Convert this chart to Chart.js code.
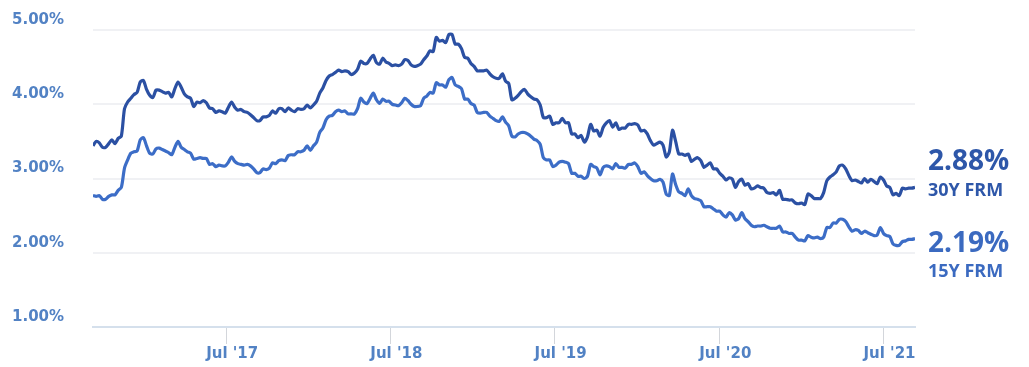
<!DOCTYPE html>
<html>
<head>
<meta charset="utf-8">
<title>Mortgage rates</title>
<script src="https://cdn.jsdelivr.net/npm/chart.js@4.4.0/dist/chart.umd.min.js"></script>
<style>
  html, body { margin: 0; padding: 0; background: #fff; }
</style>
</head>
<body>
<canvas id="rates" width="1029" height="367"></canvas>
<script>
// weekly survey, one value per Thursday starting at firstWeek
const firstWeek = Date.UTC(2016, 8, 8);

const rate30 = [
    // 2016
    3.44, 3.50, 3.48, 3.42, 3.42, 3.47, 3.52, 3.47, 3.54, 3.57, 3.94, 4.03, 4.08, 4.13, 4.16, 4.30, 4.32,
    // 2017
    4.20, 4.12, 4.09, 4.19, 4.19, 4.17, 4.15, 4.16, 4.10, 4.21, 4.30, 4.23, 4.14,
    4.10, 4.08, 3.97, 4.03, 4.02, 4.05, 4.02, 3.95, 3.94, 3.89, 3.91, 3.90, 3.88,
    3.96, 4.03, 3.96, 3.92, 3.93, 3.90, 3.89, 3.86, 3.82, 3.78, 3.78, 3.83, 3.83,
    3.85, 3.91, 3.88, 3.94, 3.94, 3.90, 3.95, 3.92, 3.90, 3.94, 3.93, 3.94, 3.99,
    // 2018
    3.95, 3.99, 4.04, 4.15, 4.22, 4.32, 4.38, 4.40, 4.43, 4.46, 4.44, 4.45, 4.44,
    4.40, 4.42, 4.47, 4.58, 4.55, 4.55, 4.61, 4.66, 4.56, 4.54, 4.62, 4.57, 4.55,
    4.52, 4.53, 4.52, 4.54, 4.60, 4.59, 4.53, 4.51, 4.52, 4.54, 4.60, 4.65, 4.72,
    4.71, 4.90, 4.85, 4.86, 4.83, 4.94, 4.94, 4.81, 4.81, 4.75, 4.63, 4.62, 4.55,
    // 2019
    4.51, 4.45, 4.45, 4.45, 4.46, 4.41, 4.37, 4.35, 4.35, 4.41, 4.31, 4.28, 4.06,
    4.08, 4.12, 4.17, 4.20, 4.14, 4.10, 4.07, 4.06, 3.99, 3.82, 3.82, 3.84, 3.73,
    3.75, 3.75, 3.81, 3.75, 3.75, 3.60, 3.60, 3.55, 3.58, 3.49, 3.56, 3.73, 3.64,
    3.65, 3.57, 3.69, 3.75, 3.78, 3.69, 3.75, 3.66, 3.68, 3.68, 3.73, 3.73, 3.74,
    // 2020
    3.72, 3.64, 3.65, 3.60, 3.51, 3.45, 3.47, 3.49, 3.45, 3.29, 3.36, 3.65, 3.50,
    3.33, 3.33, 3.31, 3.33, 3.23, 3.26, 3.28, 3.24, 3.15, 3.18, 3.21, 3.13, 3.13,
    3.07, 3.03, 2.98, 3.01, 2.99, 2.88, 2.96, 2.99, 2.91, 2.93, 2.86, 2.87, 2.90,
    2.88, 2.87, 2.81, 2.80, 2.81, 2.78, 2.84, 2.72, 2.72, 2.71, 2.71, 2.67, 2.66, 2.67,
    // 2021
    2.65, 2.79, 2.77, 2.73, 2.73, 2.73, 2.81, 2.97, 3.02, 3.05, 3.09, 3.17, 3.18,
    3.13, 3.04, 2.97, 2.98, 2.96, 2.94, 3.00, 2.95, 2.99, 2.96, 2.93, 3.02,
    2.98, 2.90, 2.88, 2.78, 2.80, 2.77, 2.87, 2.86, 2.87, 2.87, 2.88
];

const rate15 = [
    // 2016
    2.77, 2.76, 2.77, 2.72, 2.72, 2.76, 2.78, 2.78, 2.84, 2.88, 3.14, 3.25, 3.34, 3.36, 3.37, 3.52, 3.55,
    // 2017
    3.44, 3.34, 3.33, 3.40, 3.41, 3.39, 3.37, 3.35, 3.32, 3.42, 3.50, 3.42, 3.39,
    3.36, 3.34, 3.26, 3.27, 3.28, 3.27, 3.27, 3.19, 3.20, 3.16, 3.18, 3.17, 3.17,
    3.22, 3.29, 3.23, 3.20, 3.19, 3.18, 3.19, 3.17, 3.13, 3.08, 3.08, 3.13, 3.12,
    3.14, 3.21, 3.20, 3.24, 3.25, 3.24, 3.31, 3.32, 3.32, 3.36, 3.36, 3.38, 3.44,
    // 2018
    3.38, 3.44, 3.49, 3.62, 3.68, 3.79, 3.84, 3.85, 3.90, 3.92, 3.90, 3.91, 3.87,
    3.87, 3.87, 3.94, 4.08, 4.03, 4.01, 4.08, 4.15, 4.06, 4.01, 4.07, 4.04, 4.04,
    4.00, 3.99, 3.98, 4.02, 4.08, 4.05, 4.00, 3.97, 3.97, 3.98, 4.08, 4.11, 4.16,
    4.15, 4.29, 4.26, 4.26, 4.23, 4.33, 4.36, 4.26, 4.24, 4.21, 4.07, 4.07, 4.01,
    // 2019
    3.99, 3.89, 3.88, 3.89, 3.89, 3.84, 3.81, 3.78, 3.77, 3.83, 3.76, 3.71, 3.57,
    3.56, 3.60, 3.62, 3.62, 3.60, 3.57, 3.53, 3.51, 3.46, 3.28, 3.25, 3.25, 3.16,
    3.18, 3.22, 3.23, 3.22, 3.20, 3.07, 3.07, 3.03, 3.03, 3.00, 3.03, 3.19, 3.16,
    3.14, 3.05, 3.15, 3.17, 3.16, 3.13, 3.20, 3.15, 3.15, 3.14, 3.19, 3.19, 3.21,
    // 2020
    3.16, 3.07, 3.09, 3.04, 3.00, 2.97, 2.97, 2.99, 2.95, 2.79, 2.77, 3.06, 2.92,
    2.82, 2.80, 2.77, 2.86, 2.77, 2.73, 2.72, 2.70, 2.62, 2.62, 2.62, 2.59, 2.56,
    2.56, 2.51, 2.48, 2.54, 2.51, 2.44, 2.46, 2.54, 2.46, 2.42, 2.37, 2.35, 2.36,
    2.36, 2.37, 2.35, 2.33, 2.33, 2.33, 2.36, 2.28, 2.28, 2.26, 2.26, 2.21, 2.17, 2.17,
    // 2021
    2.16, 2.23, 2.21, 2.20, 2.21, 2.19, 2.21, 2.34, 2.34, 2.40, 2.40, 2.45, 2.45,
    2.42, 2.35, 2.29, 2.31, 2.30, 2.26, 2.29, 2.27, 2.25, 2.23, 2.24, 2.34,
    2.26, 2.23, 2.22, 2.12, 2.10, 2.10, 2.15, 2.16, 2.18, 2.18, 2.19
];

const seriesNames = ['30Y FRM', '15Y FRM'];
const yTicks = [1, 2, 3, 4, 5];
const xTickDates = ['2017-07-01', '2018-07-01', '2019-07-01', '2020-07-01', '2021-07-01'];
const xTickLabels = ["Jul '17", "Jul '18", "Jul '19", "Jul '20", "Jul '21"];

const WEEK = 7 * 24 * 3600 * 1000;
const toPoints = arr => arr.map((v, i) => ({ x: firstWeek + i * WEEK, y: v }));

const labelColor = '#5282c4';

// big value + name printed right of the last point of each line
const endLabels = {
    id: 'endLabels',
    afterDatasetsDraw(chart) {
        const { ctx, scales } = chart;
        chart.data.datasets.forEach(ds => {
            const last = ds.data[ds.data.length - 1];
            const py = scales.y.getPixelForValue(last.y) + ds.valueShift;
            const lx = scales.x.right + 13;
            ctx.save();
            ctx.fillStyle = ds.textColor;
            ctx.textAlign = 'left';
            ctx.textBaseline = 'middle';
            ctx.font = 'bold 28px "Open Sans"';
            ctx.fillText(last.y.toFixed(2) + '%', lx, py);
            ctx.font = 'bold 18px "Open Sans"';
            ctx.fillText(ds.label, lx, py + 28);
            ctx.restore();
        });
    }
};

new Chart(document.getElementById('rates'), {
    type: 'line',
    data: {
        datasets: [
            {
                label: seriesNames[0],
                data: toPoints(rate30),
                borderColor: '#2b50a3',
                textColor: '#2e57a9',
                valueShift: -25,
                borderWidth: 3.2,
                pointRadius: 0,
                tension: 0.25
            },
            {
                label: seriesNames[1],
                data: toPoints(rate15),
                borderColor: '#3c6dc7',
                textColor: '#3b6ac0',
                valueShift: 5,
                borderWidth: 3.2,
                pointRadius: 0,
                tension: 0.25
            }
        ]
    },
    options: {
        responsive: false,
        animation: false,
        layout: { padding: { left: 12, top: 30, right: 114, bottom: 0 } },
        plugins: {
            legend: { display: false },
            tooltip: { enabled: false }
        },
        scales: {
            x: {
                type: 'linear',
                min: firstWeek,
                max: firstWeek + (rate30.length - 1) * WEEK,
                afterBuildTicks: scale => {
                    scale.ticks = xTickDates.map(d => ({ value: Date.parse(d) }));
                },
                afterFit: scale => { scale.height = 40; },
                grid: {
                    drawOnChartArea: false,
                    color: '#d3d6db',
                    tickLength: 17
                },
                border: { color: '#d5e0ec', width: 2 },
                ticks: {
                    autoSkip: false,
                    maxRotation: 0,
                    padding: 1,
                    labelOffset: 6,
                    color: labelColor,
                    font: { family: '"DejaVu Sans"', size: 15, weight: 'bold' },
                    callback: (v, i) => xTickLabels[i]
                }
            },
            y: {
                min: yTicks[0],
                max: yTicks[yTicks.length - 1],
                afterBuildTicks: scale => {
                    scale.ticks = yTicks.map(v => ({ value: v }));
                },
                afterFit: scale => { scale.width = 81; },
                grid: { color: '#f0f1f4', lineWidth: 2, drawTicks: false },
                border: { display: false },
                ticks: {
                    padding: 0,
                    crossAlign: 'far',
                    labelOffset: -10,
                    color: labelColor,
                    font: { family: '"DejaVu Sans"', size: 15, weight: 'bold' },
                    callback: v => v.toFixed(2) + '%'
                }
            }
        }
    },
    plugins: [endLabels]
});
</script>
</body>
</html>
